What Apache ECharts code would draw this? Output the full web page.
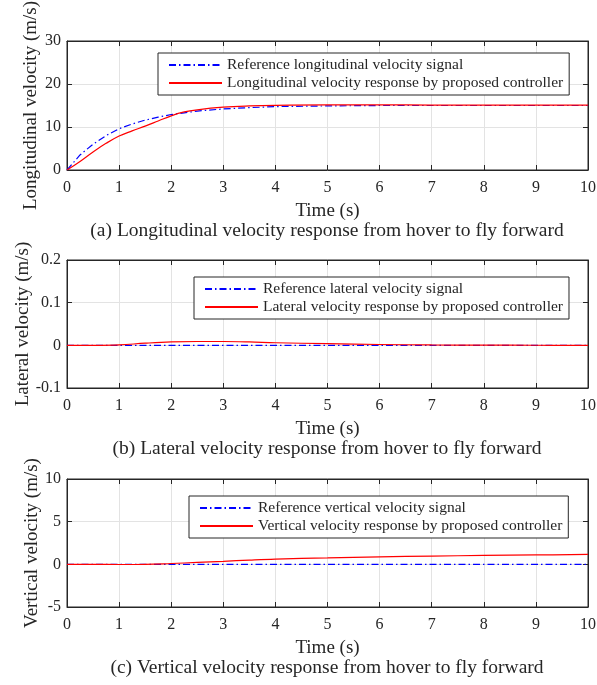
<!DOCTYPE html>
<html><head><meta charset="utf-8">
<script src="https://cdn.jsdelivr.net/npm/echarts@6/dist/echarts.min.js"></script>
<style>html,body{margin:0;padding:0;background:#fff}#c{width:597px;height:685px}</style>
</head><body><div id="c"></div>
<script>
// Time samples
const tLon = [0,0.25,0.5,0.75,1,1.25,1.5,1.75,2,2.25,2.5,3,3.5,4,5,6,7,8,9,10];
const lonRef = [0,3.5,6.0,8.0,9.6,10.7,11.6,12.3,12.9,13.3,13.7,14.2,14.5,14.75,14.9,15.0,15.0,15.0,15.0,15.0];
const lonResp = [0,2.0,4.2,6.2,7.9,9.1,10.2,11.4,12.6,13.5,14.0,14.6,14.9,15.05,15.15,15.15,15.1,15.1,15.1,15.1];

const tLat = [0,0.5,1,1.5,2,2.5,3,3.5,4,5,6,7,8,9,10];
const latRef = [0,0,0,0,0,0,0,0,0,0,0,0,0,0,0];
const latResp = [0,0,0.001,0.005,0.008,0.009,0.009,0.008,0.006,0.004,0.002,0.001,0.0005,0.0002,0];

const tVer = [0,0.5,1,1.5,2,2.5,3,3.5,4,5,6,7,8,9,10];
const verRef = [0,0,0,0,0,0,0,0,0,0,0,0,0,0,0];
const verResp = [0,0,-0.02,0,0.1,0.22,0.35,0.5,0.62,0.75,0.88,0.97,1.04,1.1,1.16];

const xTicks = {min:0, max:10, interval:1};
const yRanges = [{min:0,max:30,interval:10},{min:-0.1,max:0.2,interval:0.1},{min:-5,max:10,interval:5}];
const yNames = ['Longitudinal velocity (m/s)','Lateral velocity (m/s)','Vertical velocity (m/s)'];
const captions = ['(a) Longitudinal velocity response from hover to fly forward','(b) Lateral velocity response from hover to fly forward','(c) Vertical velocity response from hover to fly forward'];
const refNames = ['Reference longitudinal velocity signal','Reference lateral velocity signal','Reference vertical velocity signal'];
const respNames = ['Longitudinal velocity response by proposed controller','Lateral velocity response by proposed controller','Vertical velocity response by proposed controller'];

const FONT = '"Liberation Serif", "Times New Roman", serif';
const tops = [41, 260, 479];
const heights = [129, 128, 128];
const legendLefts = [158, 194, 189];
const legendTops = [53, 277, 496];
const yNameGaps = [26, 34, 25];
const axisCol = '#262626';

const pairs = [[tLon, lonRef, lonResp],[tLat, latRef, latResp],[tVer, verRef, verResp]];

const grid=[], xAxis=[], yAxis=[], series=[], legend=[];
for (let i=0;i<3;i++){
  grid.push({left:67, top:tops[i], width:521, height:heights[i], show:true, borderColor:axisCol, borderWidth:1,
    containLabel:false, outerBoundsMode:'none'});
  const baseX = {gridIndex:i, type:'value', min:xTicks.min, max:xTicks.max, interval:xTicks.interval,
    axisLine:{show:true, onZero:false, lineStyle:{color:axisCol}},
    axisTick:{show:true, inside:true, length:5, lineStyle:{color:axisCol}},
    splitLine:{show:false}};
  xAxis.push(Object.assign({}, baseX, {position:'bottom',
    axisLabel:{color:axisCol, fontFamily:FONT, fontSize:16, margin:10},
    splitLine:{show:true, lineStyle:{color:'#e3e3e3'}},
    name:'Time (s)', nameLocation:'middle', nameGap:32, nameMoveOverlap:false,
    nameTextStyle:{color:axisCol, fontFamily:FONT, fontSize:19}}));
  xAxis.push(Object.assign({}, baseX, {position:'top', axisLabel:{show:false}}));
  const r = yRanges[i];
  const baseY = {gridIndex:i, type:'value', min:r.min, max:r.max, interval:r.interval,
    axisLine:{show:true, onZero:false, lineStyle:{color:axisCol}},
    axisTick:{show:true, inside:true, length:5, lineStyle:{color:axisCol}},
    splitLine:{show:false}};
  yAxis.push(Object.assign({}, baseY, {position:'left',
    axisLabel:{color:axisCol, fontFamily:FONT, fontSize:16, margin:6},
    splitLine:{show:true, lineStyle:{color:'#e3e3e3'}},
    name:yNames[i], nameLocation:'middle', nameGap:yNameGaps[i], nameMoveOverlap:false,
    nameTextStyle:{color:axisCol, fontFamily:FONT, fontSize:19}}));
  yAxis.push(Object.assign({}, baseY, {position:'right', axisLabel:{show:false}}));
  const [t, ref, resp] = pairs[i];
  series.push({name:refNames[i], type:'line', xAxisIndex:2*i, yAxisIndex:2*i, symbol:'none', silent:true, z:3,
    data:t.map((x,k)=>[x, ref[k]]), lineStyle:{color:'#0000ff', width:1.2, type:[7,3,1.5,3]}, itemStyle:{color:'#0000ff'}});
  series.push({name:respNames[i], type:'line', xAxisIndex:2*i, yAxisIndex:2*i, symbol:'none', silent:true, smooth:0.4, z:4,
    data:t.map((x,k)=>[x, resp[k]]), lineStyle:{color:'#ff0000', width:1.2}, itemStyle:{color:'#ff0000'}});
  legend.push({orient:'vertical', left:legendLefts[i], top:legendTops[i], data:[refNames[i], respNames[i]],
    itemWidth:53, itemHeight:14, itemGap:2, padding:[4,6,4,10], borderColor:axisCol, borderWidth:1, backgroundColor:'#fff',
    itemStyle:{opacity:0}, selectedMode:false, textStyle:{color:axisCol, fontFamily:FONT, fontSize:15.5}});
}
const chart = echarts.init(document.getElementById('c'), null, {renderer:'canvas'});
chart.setOption({animation:false, grid, xAxis, yAxis, series, legend,
  graphic: captions.map((c,i)=>({type:'text', x:327, y:tops[i]+heights[i]+51, style:{text:c, fill:axisCol, font:'19.5px '+FONT, align:'center', verticalAlign:'top'}}))
});
</script></body></html>
